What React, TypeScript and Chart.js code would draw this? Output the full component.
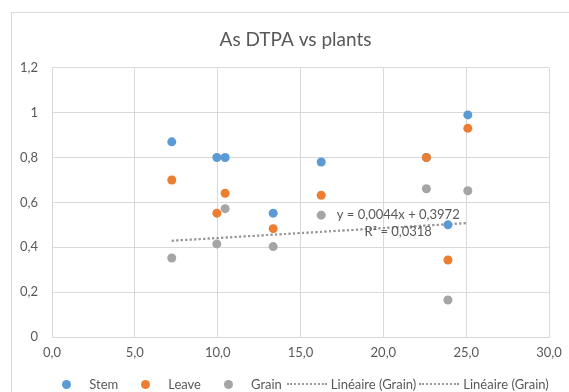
import React, { useEffect, useRef } from "react";
import { Chart, registerables } from "chart.js";

Chart.register(...registerables);

const TITLE = "As DTPA vs plants";

const stemX = [7.23, 9.95, 10.45, 13.35, 16.25, 22.6, 23.9, 25.1];
const stemY = [0.87, 0.8, 0.8, 0.552, 0.78, 0.8, 0.5, 0.99];

const leaveX = [7.23, 9.95, 10.45, 13.35, 16.25, 22.6, 23.9, 25.1];
const leaveY = [0.7, 0.552, 0.641, 0.483, 0.632, 0.8, 0.343, 0.93];

const grainX = [7.23, 9.95, 10.45, 13.35, 16.25, 22.6, 23.9, 25.1];
const grainY = [0.352, 0.415, 0.572, 0.403, 0.543, 0.661, 0.165, 0.652];

// trendline endpoints (y = 0,0044x + 0,3972)
const trendX = [7.23, 25.1];
const trendY = [0.429, 0.508];

const trendLabel1 = "y = 0,0044x + 0,3972";
const trendLabel2 = "R² = 0,0318";

const legendLabels = ["Stem", "Leave", "Grain", "Linéaire (Grain)", "Linéaire (Grain)"];

const BLUE = "#5b9bd5";
const ORANGE = "#ed7d31";
const GRAY = "#a5a5a5";
const TREND = "#999999";
const TEXT = "#595959";
const GRID = "#d9d9d9";
const FONT = "Lato, 'Open Sans', sans-serif";

const toPts = (xs: number[], ys: number[]) => xs.map((x, i) => ({ x, y: ys[i] }));

const trendLabelPlugin = {
  id: "trendLabel",
  afterDatasetsDraw(chart: any) {
    const { ctx, scales } = chart;
    const cx = scales.x.getPixelForValue(20.9);
    const y1 = scales.y.getPixelForValue(0.545);
    const y2 = scales.y.getPixelForValue(0.47);
    ctx.save();
    ctx.fillStyle = TEXT;
    ctx.font = `13px ${FONT}`;
    ctx.textAlign = "center";
    ctx.textBaseline = "middle";
    ctx.fillText(trendLabel1, cx, y1);
    ctx.fillText(trendLabel2, cx, y2);
    ctx.restore();
  },
};

export default function App() {
  const ref = useRef<HTMLCanvasElement | null>(null);

  useEffect(() => {
    document.body.style.margin = "0";
    if (!ref.current) return;
    const scatter = (label: string, xs: number[], ys: number[], color: string, order: number) => ({
      type: "scatter" as const,
      label,
      data: toPts(xs, ys),
      backgroundColor: color,
      borderColor: color,
      borderWidth: 0,
      pointRadius: 4.5,
      pointHoverRadius: 4.5,
      order,
    });
    const trend = (label: string) => ({
      type: "line" as const,
      label,
      data: toPts(trendX, trendY),
      borderColor: TREND,
      borderWidth: 2,
      borderDash: [2, 2.5],
      pointRadius: 0,
      fill: false,
      showLine: true,
      order: 5,
    });
    const chart = new Chart(ref.current, {
      type: "scatter",
      data: {
        datasets: [
          scatter(legendLabels[0], stemX, stemY, BLUE, 3),
          scatter(legendLabels[1], leaveX, leaveY, ORANGE, 2),
          scatter(legendLabels[2], grainX, grainY, GRAY, 1),
          trend(legendLabels[3]),
          trend(legendLabels[4]),
        ] as any,
      },
      options: {
        responsive: false,
        animation: false,
        layout: { padding: { left: 0, right: 0, top: 0, bottom: 25 } },
        plugins: {
          legend: { display: false },
          tooltip: { enabled: false },
          title: {
            display: true,
            text: TITLE,
            color: TEXT,
            font: { family: FONT, size: 19, weight: "normal" },
            padding: { top: 28, bottom: 17 },
          },
        },
        scales: {
          x: {
            type: "linear",
            min: 0,
            max: 30,
            ticks: {
              stepSize: 5,
              color: TEXT,
              font: { family: FONT, size: 13 },
              padding: 8,
              maxRotation: 0,
              callback: (v: any) => Number(v).toFixed(1).replace(".", ","),
            },
            grid: { color: GRID, drawTicks: false },
            border: { color: GRID },
            afterFit: (s: any) => {
              s.height = 30;
            },
          },
          y: {
            type: "linear",
            min: 0,
            max: 1.2,
            ticks: {
              stepSize: 0.2,
              color: TEXT,
              font: { family: FONT, size: 13 },
              padding: 14,
              callback: (v: any) => String(Number(Number(v).toFixed(1))).replace(".", ","),
            },
            grid: { color: GRID, drawTicks: false },
            border: { color: GRID },
            afterFit: (s: any) => {
              s.width = 52;
            },
          },
          yRight: {
            type: "linear",
            position: "right",
            min: 0,
            max: 1.2,
            ticks: { display: false },
            grid: { display: false, drawTicks: false },
            border: { display: false },
            afterFit: (s: any) => {
              s.width = 42;
            },
          },
        },
      },
      plugins: [trendLabelPlugin],
    });
    return () => chart.destroy();
  }, []);

  const dot = (color: string) => (
    <span
      style={{
        display: "inline-block",
        width: 9,
        height: 9,
        borderRadius: "50%",
        background: color,
        marginRight: 18,
      }}
    />
  );
  const dash = () => (
    <span
      style={{
        display: "inline-block",
        width: 40,
        height: 0,
        borderTop: `2px dotted ${TREND}`,
        marginRight: 4,
      }}
    />
  );
  const item = (marker: React.ReactNode, text: string, gap: number) => (
    <span style={{ display: "inline-flex", alignItems: "center", marginRight: gap }}>
      {marker}
      <span>{text}</span>
    </span>
  );

  return (
    <div
      style={{
        position: "absolute",
        left: 0,
        top: 0,
        width: 569,
        height: 392,
        overflow: "hidden",
        background: "#ffffff",
      }}
    >
      <div
        style={{
          position: "absolute",
          left: 11,
          top: 12,
          width: 700,
          height: 500,
          border: `1px solid ${GRID}`,
          boxSizing: "border-box",
        }}
      />
      <canvas ref={ref} width={591} height={392} style={{ position: "absolute", left: 0, top: 0 }} />
      <div
        style={{
          position: "absolute",
          left: 0,
          top: 375,
          width: 569,
          height: 18,
          display: "flex",
          justifyContent: "center",
          alignItems: "center",
          fontFamily: FONT,
          fontSize: 13,
          color: TEXT,
          whiteSpace: "nowrap",
          paddingLeft: 42,
          boxSizing: "border-box",
        }}
      >
        {item(dot(BLUE), legendLabels[0], 23)}
        {item(dot(ORANGE), legendLabels[1], 23)}
        {item(dot(GRAY), legendLabels[2], 5)}
        {item(dash(), legendLabels[3], 3)}
        {item(dash(), legendLabels[4], 0)}
      </div>
    </div>
  );
}
